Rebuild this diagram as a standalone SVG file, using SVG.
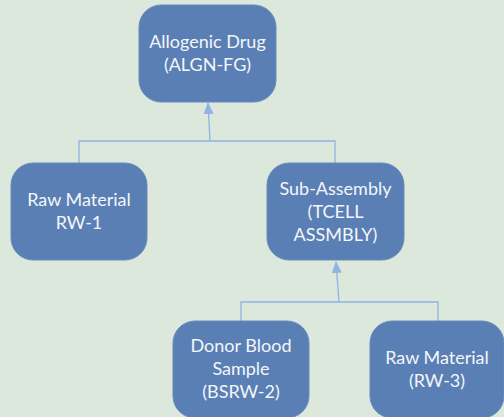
<svg xmlns="http://www.w3.org/2000/svg" width="504" height="417" viewBox="0 0 504 417">
<style>
.node rect{fill:#5a7fb4;stroke:#6a8cbd;stroke-width:1}
.node text{fill:#f4f6fa;font-family:Lato,"Open Sans","Liberation Sans",sans-serif;font-size:18px;text-anchor:middle}
.conn{stroke:#8fb4e3;stroke-width:1.3;fill:none}
</style>
<defs>
<marker id="ah" markerWidth="12" markerHeight="10" refX="11" refY="5" orient="auto" markerUnits="userSpaceOnUse">
<path d="M0,0 L12,5 L0,10 z" fill="#8fb4e3"/>
</marker>
</defs>
<rect width="504" height="417" fill="#dce8dc"/>
<g id="connectors">
<polyline class="conn" points="79,163 79,141 335,141 335,163"/>
<line class="conn" x1="210" y1="141" x2="208" y2="103" marker-end="url(#ah)"/>
<polyline class="conn" points="241,321 241,302 438,302 438,321"/>
<line class="conn" x1="339" y1="302" x2="336" y2="262" marker-end="url(#ah)"/>
</g>
<g id="n1" class="node">
<rect x="139" y="5" width="137" height="97" rx="22"/>
<text x="207.5" y="48">Allogenic Drug</text>
<text x="207.5" y="71">(ALGN-FG)</text>
</g>
<g id="n2" class="node">
<rect x="11" y="163" width="136" height="97" rx="22"/>
<text x="79" y="206">Raw Material</text>
<text x="79" y="229">RW-1</text>
</g>
<g id="n3" class="node">
<rect x="267" y="163" width="137" height="97" rx="22"/>
<text x="335.5" y="195">Sub-Assembly</text>
<text x="335.5" y="218">(TCELL</text>
<text x="335.5" y="241">ASSMBLY)</text>
</g>
<g id="n4" class="node">
<rect x="173" y="321" width="136" height="97" rx="22"/>
<text x="241" y="352">Donor Blood</text>
<text x="241" y="375">Sample</text>
<text x="241" y="398">(BSRW-2)</text>
</g>
<g id="n5" class="node">
<rect x="370" y="321" width="134" height="97" rx="22"/>
<text x="437" y="364">Raw Material</text>
<text x="437" y="387">(RW-3)</text>
</g>
</svg>
